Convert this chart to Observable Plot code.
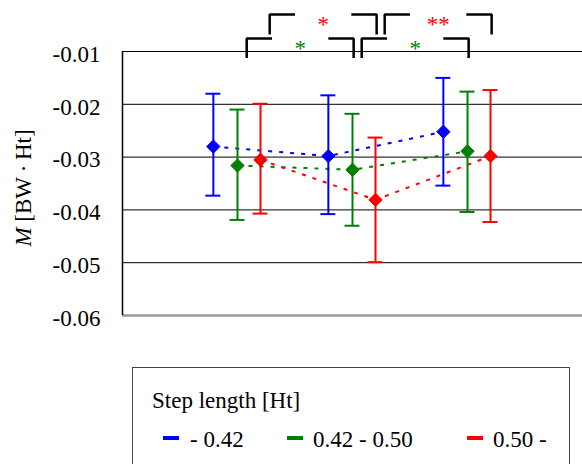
<!DOCTYPE html>
<html><head><meta charset="utf-8">
<script src="https://cdn.jsdelivr.net/npm/d3@7"></script>
<script src="https://cdn.jsdelivr.net/npm/@observablehq/plot@0.6"></script>
<style>
html,body{margin:0;padding:0;overflow:hidden;background:#fff;}
body{font-family:"Liberation Serif","Times New Roman",serif;}
#wrap{position:relative;width:582px;height:464px;}
#chart{position:absolute;left:0;top:0;}
#legend{position:absolute;left:132px;top:367px;width:438px;height:120px;border:1px solid #444;box-sizing:border-box;background:#fff;}
#legend .title{position:absolute;left:19px;top:21px;font-size:23px;line-height:23px;white-space:nowrap;}
#legend .sw{position:absolute;top:68px;width:16px;height:4px;}
#legend .lab{position:absolute;top:60px;font-size:23px;line-height:23px;white-space:nowrap;}
</style></head>
<body>
<div id="wrap"><div id="chart"></div><div id="legend"></div></div>
<script>
// ---- data ----
const groups = [1, 2, 3];
const seriesNames = ["- 0.42", "0.42 - 0.50", "0.50 -"];
const seriesColors = ["#0000ff", "#008000", "#ff0000"];
const seriesOffsets = [-0.21, 0, 0.2];

const blueMean  = [-0.0280, -0.0298, -0.0252];
const blueUpper = [-0.0180, -0.0183, -0.0150];
const blueLower = [-0.0373, -0.0408, -0.0354];

const greenMean  = [-0.0316, -0.0324, -0.0289];
const greenUpper = [-0.0210, -0.0218, -0.0176];
const greenLower = [-0.0419, -0.0430, -0.0404];

const redMean  = [-0.0305, -0.0381, -0.0298];
const redUpper = [-0.0199, -0.0263, -0.0173];
const redLower = [-0.0407, -0.0499, -0.0423];

const yTicks = [-0.06, -0.05, -0.04, -0.03, -0.02, -0.01];
const yLabelItalic = "M";
const yLabelRest = " [BW\u2009\u00b7\u2009Ht]";
const legendTitle = "Step length [Ht]";

// significance brackets: series index, from group, to group, label
const bracketSeries = [1, 1, 2, 2];
const bracketFrom   = [1, 2, 1, 2];
const bracketTo     = [2, 3, 2, 3];
const bracketLabels = ["*", "*", "*", "**"];
// bracket levels (data units above the frame) per row
const rowTop    = {1: -0.00754, 2: -0.00301};
const rowBottom = {1: -0.01125, 2: -0.00679};

// ---- build table ----
const means  = [blueMean, greenMean, redMean];
const uppers = [blueUpper, greenUpper, redUpper];
const lowers = [blueLower, greenLower, redLower];
const rows = [];
seriesNames.forEach((name, si) => groups.forEach((g, gi) => rows.push({
  series: name, color: seriesColors[si], x: g + seriesOffsets[si],
  mean: means[si][gi], upper: uppers[si][gi], lower: lowers[si][gi]
})));

const seg = 0.22;
const bracketPts = [];
const bracketText = [];
bracketSeries.forEach((si, i) => {
  const L = bracketFrom[i] + seriesOffsets[si] + 0.08;
  const R = bracketTo[i] + seriesOffsets[si] + 0.01;
  const t = rowTop[si === 1 ? 1 : 2], b = rowBottom[si === 1 ? 1 : 2];
  const idL = "L" + i, idR = "R" + i;
  bracketPts.push({id: idL, x: L, y: b}, {id: idL, x: L, y: t}, {id: idL, x: L + seg, y: t});
  bracketPts.push({id: idR, x: R - seg, y: t}, {id: idR, x: R, y: t}, {id: idR, x: R, y: b});
  bracketText.push({x: (L + R) / 2, y: t, label: bracketLabels[i], color: seriesColors[si]});
});

const capHalf = 0.065;
const serif = '"Liberation Serif", "Times New Roman", serif';

const chart = Plot.plot({
  width: 582,
  height: 345,
  marginLeft: 122,
  marginRight: 0,
  marginTop: 51,
  marginBottom: 30,
  style: `font-family: ${serif}; background: #fff;`,
  x: {domain: [0, 4], axis: null},
  y: {domain: [-0.06, -0.01]},
  color: {type: "identity"},
  marks: [
    Plot.gridY(yTicks, {stroke: "#000", strokeOpacity: 1, strokeWidth: 1}),
    Plot.axisY(yTicks, {tickSize: 0, tickPadding: 22, fontSize: 23, dy: 3, fontFamily: serif,
      tickFormat: d => d.toFixed(2), label: null}),
    Plot.ruleY([-0.06], {stroke: "#9a9a9a", strokeWidth: 2.5}),
    Plot.ruleX([0], {y1: -0.06, y2: -0.01, stroke: "#000", strokeWidth: 1.5}),
    Plot.line(rows, {x: "x", y: "mean", z: "series", stroke: "color", strokeWidth: 2,
      strokeDasharray: "4,7", strokeLinecap: "butt"}),
    Plot.ruleX(rows, {x: "x", y1: "lower", y2: "upper", stroke: "color", strokeWidth: 2}),
    Plot.ruleY(rows, {x1: d => d.x - capHalf, x2: d => d.x + capHalf, y: "upper", stroke: "color", strokeWidth: 2}),
    Plot.ruleY(rows, {x1: d => d.x - capHalf, x2: d => d.x + capHalf, y: "lower", stroke: "color", strokeWidth: 2}),
    Plot.dot(rows, {x: "x", y: "mean", symbol: "diamond2", r: 6, fill: "color", stroke: "color", strokeWidth: 1}),
    Plot.line(bracketPts, {x: "x", y: "y", z: "id", stroke: "#000", strokeWidth: 2.5,
      strokeLinejoin: "miter", strokeLinecap: "butt", clip: false}),
    Plot.text(bracketText, {x: "x", y: "y", text: "label", fill: "color", fontSize: 23, dy: 10,
      fontFamily: serif, clip: false})
  ]
});
document.getElementById("chart").appendChild(chart);

// y-axis title
const svg = d3.select(chart);
const t = svg.append("text")
  .attr("transform", "translate(31,188) rotate(-90)")
  .attr("text-anchor", "middle")
  .attr("font-size", 23)
  .attr("font-family", serif)
  .attr("fill", "#000");
t.append("tspan").attr("font-style", "italic").text(yLabelItalic);
t.append("tspan").text(yLabelRest);
svg.selectAll("text").style("font-family", serif, "important");

// legend
const lg = d3.select("#legend");
lg.append("div").attr("class", "title").text(legendTitle);
const swX = [30, 154, 334], labX = [57, 180, 360];
seriesNames.forEach((n, i) => {
  lg.append("div").attr("class", "sw").style("left", swX[i] + "px").style("background", seriesColors[i]);
  lg.append("div").attr("class", "lab").style("left", labX[i] + "px").text(n);
});
</script>
</body></html>
